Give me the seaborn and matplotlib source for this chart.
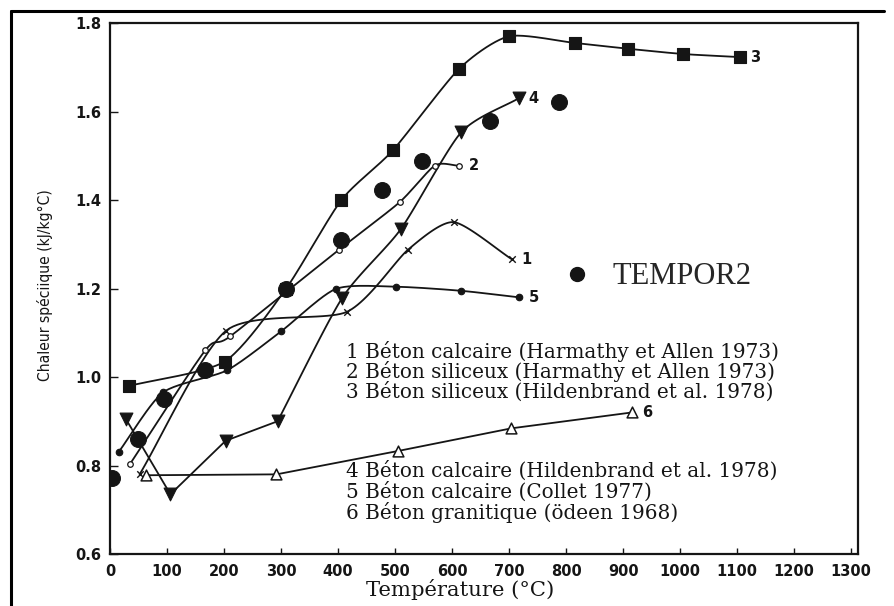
import numpy as np
import pandas as pd
import matplotlib
matplotlib.use("Agg")
import matplotlib.pyplot as plt
from matplotlib.lines import Line2D
import seaborn as sns

# ---------------- data ----------------
s1_x = [52, 204, 415, 523, 603, 705]
s1_y = [0.780, 1.105, 1.147, 1.288, 1.350, 1.266]

s2_x = [35, 167, 211, 401, 508, 570, 613]
s2_y = [0.803, 1.060, 1.092, 1.287, 1.395, 1.478, 1.477]

s3_x = [34, 201, 309, 406, 496, 612, 700, 815, 908, 1005, 1105]
s3_y = [0.980, 1.035, 1.200, 1.400, 1.512, 1.696, 1.770, 1.755, 1.742, 1.730, 1.723]

s4_x = [28, 106, 203, 294, 407, 510, 616, 717]
s4_y = [0.905, 0.735, 0.856, 0.900, 1.178, 1.334, 1.553, 1.630]

s5_x = [15, 93, 205, 300, 396, 502, 615, 718]
s5_y = [0.830, 0.965, 1.015, 1.103, 1.199, 1.204, 1.195, 1.180]

s6_x = [64, 292, 506, 704, 916]
s6_y = [0.778, 0.780, 0.833, 0.884, 0.920]

tempor_x = [3, 49, 95, 167, 309, 405, 477, 547, 667, 788]
tempor_y = [0.772, 0.859, 0.950, 1.015, 1.200, 1.310, 1.422, 1.489, 1.578, 1.621]

x_ticks = [0, 100, 200, 300, 400, 500, 600, 700, 800, 900, 1000, 1100, 1200, 1300]
y_ticks = [0.6, 0.8, 1.0, 1.2, 1.4, 1.6, 1.8]
y_tick_labels = ["0.6", "0.8", "1.0", "1.2", "1.4", "1.6", "1.8"]

curve_ids = ["1", "2", "3", "4", "5", "6"]
legend_a = ["1 Béton calcaire (Harmathy et Allen 1973)",
            "2 Béton siliceux (Harmathy et Allen 1973)",
            "3 Béton siliceux (Hildenbrand et al. 1978)"]
legend_b = ["4 Béton calcaire (Hildenbrand et al. 1978)",
            "5 Béton calcaire (Collet 1977)",
            "6 Béton granitique (ödeen 1968)"]
tempor_label = "TEMPOR2"
x_label = "Température (°C)"
y_label = "Chaleur spéciique (kJ/kg°C)"

# ---------------- helpers ----------------
XR, YR = 1300.0, 1.2 * 1.41   # normalisation so the smoothing works in ~screen space


def smooth_path(x, y, tension=0.3, n=24):
    """Cardinal-spline rendering of the line through the data points."""
    P = np.column_stack([np.asarray(x, float) / XR, np.asarray(y, float) / YR])
    if len(P) < 3:
        return np.asarray(x, float), np.asarray(y, float)
    m = np.zeros_like(P)
    m[1:-1] = (1 - tension) * (P[2:] - P[:-2]) / 2
    m[0] = (1 - tension) * (P[1] - P[0])
    m[-1] = (1 - tension) * (P[-1] - P[-2])
    out = []
    for i in range(len(P) - 1):
        t = np.linspace(0, 1, n, endpoint=(i == len(P) - 2))[:, None]
        h00 = 2 * t**3 - 3 * t**2 + 1
        h10 = t**3 - 2 * t**2 + t
        h01 = -2 * t**3 + 3 * t**2
        h11 = t**3 - t**2
        out.append(h00 * P[i] + h10 * m[i] + h01 * P[i + 1] + h11 * m[i + 1])
    C = np.vstack(out)
    return C[:, 0] * XR, C[:, 1] * YR


INK = "#151515"
LW = 1.3


def draw_line(ax, x, y, smooth=True):
    if smooth:
        xs, ys = smooth_path(x, y)
    else:
        xs, ys = np.asarray(x, float), np.asarray(y, float)
    df = pd.DataFrame({"x": xs, "y": ys})
    sns.lineplot(data=df, x="x", y="y", sort=False, estimator=None, color=INK,
                 lw=LW, ax=ax, legend=False, zorder=2)


def draw_markers(ax, x, y, marker, s, face, lw=0.8):
    df = pd.DataFrame({"x": x, "y": y})
    sns.scatterplot(data=df, x="x", y="y", marker=marker, s=s, color=face,
                    edgecolor=INK, linewidth=lw, ax=ax, legend=False, zorder=4)


# ---------------- figure ----------------
sns.set_theme(style="ticks")
plt.rcParams["font.family"] = ["DejaVu Sans"]

fig = plt.figure(figsize=(8.94, 6.06), dpi=100)
fig.patch.set_facecolor("white")
ax = fig.add_axes([0.1230, 0.0858, 0.8367, 0.8762])
ax.set_facecolor("white")

# curves
draw_line(ax, s1_x, s1_y)
draw_line(ax, s2_x, s2_y)
draw_line(ax, s3_x, s3_y)
draw_line(ax, s4_x[:4], s4_y[:4], smooth=False)
draw_line(ax, s4_x[3:], s4_y[3:])
draw_line(ax, s5_x, s5_y)
draw_line(ax, s6_x, s6_y, smooth=False)

# markers
draw_markers(ax, s1_x, s1_y, "x", 22, INK, lw=1.0)
draw_markers(ax, s2_x, s2_y, "o", 16, "white", lw=0.9)
draw_markers(ax, s3_x, s3_y, "s", 80, INK)
draw_markers(ax, s4_x, s4_y, "v", 85, INK)
draw_markers(ax, s5_x, s5_y, "o", 22, INK)
draw_markers(ax, s6_x, s6_y, "^", 60, "white", lw=1.1)
draw_markers(ax, tempor_x, tempor_y, "o", 130, INK)

# curve numbers at the end of each curve
ends = [(s1_x, s1_y), (s2_x, s2_y), (s3_x, s3_y), (s4_x, s4_y), (s5_x, s5_y), (s6_x, s6_y)]
for cid, (xx, yy) in zip(curve_ids, ends):
    ax.annotate(cid, xy=(xx[-1], yy[-1]), xytext=(7, 0), textcoords="offset points",
                ha="left", va="center", fontsize=10.5, fontweight="bold", color=INK)

# axes styling
ax.set_xlim(0, 1312)
ax.set_ylim(0.6, 1.8)
ax.set_xticks(x_ticks)
ax.set_xticklabels([str(v) for v in x_ticks])
ax.set_yticks(y_ticks)
ax.set_yticklabels(y_tick_labels)
for lab in ax.get_xticklabels() + ax.get_yticklabels():
    lab.set_fontweight("bold")
    lab.set_fontsize(10.5)
    lab.set_color("#222222")
ax.tick_params(axis="x", direction="in", length=4, width=1.0, pad=7, colors=INK)
ax.tick_params(axis="y", direction="in", length=6, width=1.0, pad=6, colors=INK)
for sp in ax.spines.values():
    sp.set_visible(True)
    sp.set_color(INK)
    sp.set_linewidth(1.6)
ax.set_xlabel("")
ax.set_ylabel("")

# descriptive text blocks
y0a, y0b, dy = 0.3823, 0.1563, 0.0386
for i, t in enumerate(legend_a):
    ax.text(0.3155, y0a - i * dy, t, transform=ax.transAxes, ha="left", va="center",
            family="DejaVu Serif", fontsize=14.4, color=INK)
for i, t in enumerate(legend_b):
    ax.text(0.3155, y0b - i * dy, t, transform=ax.transAxes, ha="left", va="center",
            family="DejaVu Serif", fontsize=14.4, color=INK)

# TEMPOR2 legend
h = Line2D([], [], marker="o", ls="none", color=INK, ms=10)
leg = ax.legend(handles=[h], labels=[tempor_label], loc="center left",
                bbox_to_anchor=(0.590, 0.5217), frameon=False, borderaxespad=0,
                handlelength=0.9, handletextpad=0.7,
                prop={"family": "Liberation Serif", "size": 22})

# axis titles
fig.text(460 / 894, 1 - 590 / 606, x_label, ha="center", va="center",
         family="DejaVu Serif", fontsize=15.2, color=INK)
fig.text(45 / 894, 1 - 285 / 606, y_label, ha="center", va="center", rotation=90,
         family="DejaVu Sans", fontstretch="condensed", fontsize=11.2, color=INK)

# outer scan frame
fig.add_artist(Line2D([11 / 894, 11 / 894], [0, 1 - 11 / 606], transform=fig.transFigure,
                      color="black", lw=2.2))
fig.add_artist(Line2D([11 / 894, 884 / 894], [1 - 11 / 606, 1 - 11 / 606],
                      transform=fig.transFigure, color="black", lw=2.2))

fig.savefig("out.png", dpi=100, facecolor="white")
